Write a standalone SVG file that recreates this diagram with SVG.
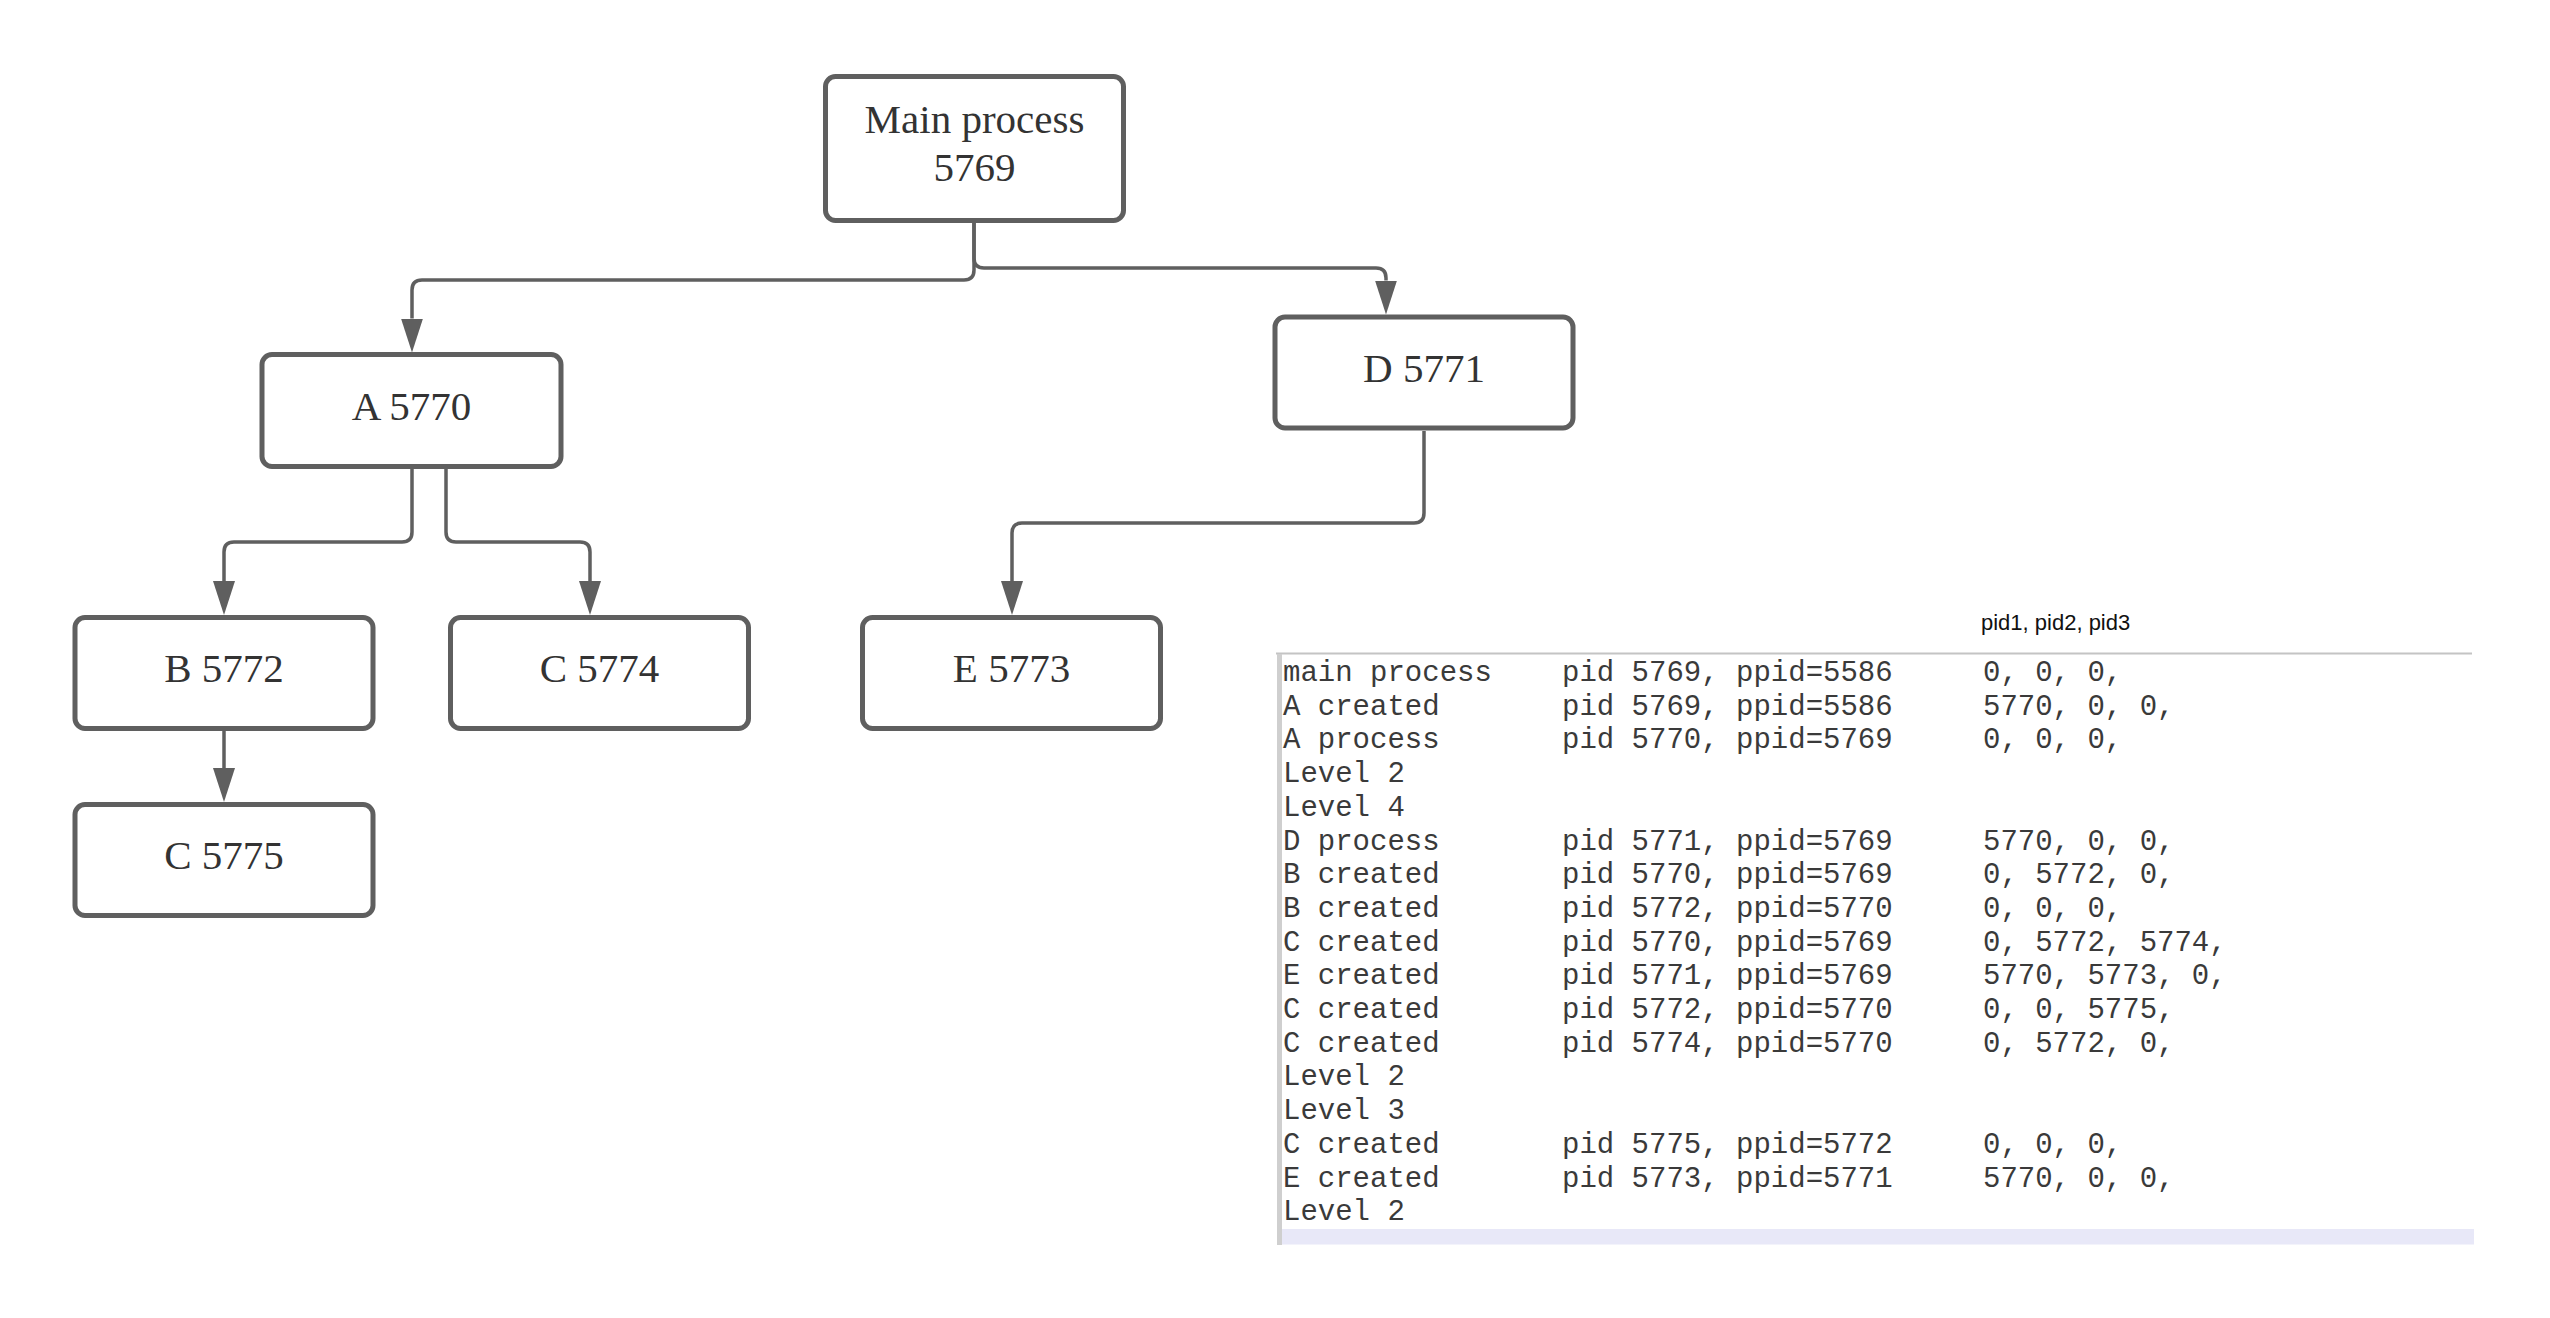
<svg xmlns="http://www.w3.org/2000/svg" width="2550" height="1318" viewBox="0 0 2550 1318">
<style>
.box{fill:#ffffff;stroke:#5f5f5f;stroke-width:5}
.lbl{font-family:"Liberation Serif","Times New Roman",serif;font-size:41px;fill:#333333;text-anchor:middle}
.con{fill:none;stroke:#5f5f5f;stroke-width:3.5}
.mono{font-family:"Liberation Mono","Courier New",monospace;font-size:29px;fill:#3a3a3a}
.hdr{font-family:"Liberation Sans",Arial,sans-serif;font-size:22px;fill:#111111}
</style>
<defs>
<marker id="arr" markerUnits="userSpaceOnUse" markerWidth="36" markerHeight="24" refX="0" refY="11" orient="auto">
<path d="M0,0 L34,11 L0,22 Z" fill="#5f5f5f"/>
</marker>
</defs>
<rect x="0" y="0" width="2550" height="1318" fill="#ffffff"/>
<g id="connectors">
<path class="con" marker-end="url(#arr)" d="M974,223 V270 Q974,280 964,280 H422 Q412,280 412,290 V318.5"/>
<path class="con" marker-end="url(#arr)" d="M974,223 V258 Q974,268 984,268 H1376 Q1386,268 1386,278 V280.5"/>
<path class="con" marker-end="url(#arr)" d="M412,469 V532 Q412,542 402,542 H234 Q224,542 224,552 V581"/>
<path class="con" marker-end="url(#arr)" d="M446,469 V532 Q446,542 456,542 H580 Q590,542 590,552 V581"/>
<path class="con" marker-end="url(#arr)" d="M1424,431 V513 Q1424,523 1414,523 H1022 Q1012,523 1012,533 V581"/>
<path class="con" marker-end="url(#arr)" d="M224,731 V768"/>
</g>
<g id="node-main">
<rect class="box" x="825.5" y="76.5" width="298" height="144" rx="10"/>
<text class="lbl" x="974.5" y="133">Main process</text>
<text class="lbl" x="974.5" y="181">5769</text>
</g>
<g id="node-A">
<rect class="box" x="262" y="354.5" width="299" height="112" rx="10"/>
<text class="lbl" x="411.5" y="419.5">A 5770</text>
</g>
<g id="node-D">
<rect class="box" x="1275" y="317" width="298" height="111" rx="10"/>
<text class="lbl" x="1424" y="381.5">D 5771</text>
</g>
<g id="node-B">
<rect class="box" x="75" y="617.5" width="298" height="111" rx="10"/>
<text class="lbl" x="224" y="681.5">B 5772</text>
</g>
<g id="node-C5774">
<rect class="box" x="450.5" y="617.5" width="298" height="111" rx="10"/>
<text class="lbl" x="599.5" y="681.5">C 5774</text>
</g>
<g id="node-E">
<rect class="box" x="862.5" y="617.5" width="298" height="111" rx="10"/>
<text class="lbl" x="1011.5" y="681.5">E 5773</text>
</g>
<g id="node-C5775">
<rect class="box" x="75" y="804.5" width="298" height="111" rx="10"/>
<text class="lbl" x="224" y="869">C 5775</text>
</g>
<g id="output-log">
<text class="hdr" x="1981" y="630">pid1, pid2, pid3</text>
<line x1="1276" y1="653.5" x2="2472" y2="653.5" stroke="#c4c4c4" stroke-width="2"/>
<rect x="1277" y="654" width="5" height="591" fill="#cfcfcf"/>
<rect x="1282" y="1229" width="1192" height="15.5" fill="#e8e8f8"/>
<g class="mono">
<text y="681"><tspan x="1283">main process</tspan><tspan x="1562">pid 5769, ppid=5586</tspan><tspan x="1983">0, 0, 0,</tspan></text>
<text y="714.7"><tspan x="1283">A created</tspan><tspan x="1562">pid 5769, ppid=5586</tspan><tspan x="1983">5770, 0, 0,</tspan></text>
<text y="748.4"><tspan x="1283">A process</tspan><tspan x="1562">pid 5770, ppid=5769</tspan><tspan x="1983">0, 0, 0,</tspan></text>
<text y="782.1"><tspan x="1283">Level 2</tspan></text>
<text y="815.8"><tspan x="1283">Level 4</tspan></text>
<text y="849.5"><tspan x="1283">D process</tspan><tspan x="1562">pid 5771, ppid=5769</tspan><tspan x="1983">5770, 0, 0,</tspan></text>
<text y="883.2"><tspan x="1283">B created</tspan><tspan x="1562">pid 5770, ppid=5769</tspan><tspan x="1983">0, 5772, 0,</tspan></text>
<text y="916.9"><tspan x="1283">B created</tspan><tspan x="1562">pid 5772, ppid=5770</tspan><tspan x="1983">0, 0, 0,</tspan></text>
<text y="950.6"><tspan x="1283">C created</tspan><tspan x="1562">pid 5770, ppid=5769</tspan><tspan x="1983">0, 5772, 5774,</tspan></text>
<text y="984.3"><tspan x="1283">E created</tspan><tspan x="1562">pid 5771, ppid=5769</tspan><tspan x="1983">5770, 5773, 0,</tspan></text>
<text y="1018"><tspan x="1283">C created</tspan><tspan x="1562">pid 5772, ppid=5770</tspan><tspan x="1983">0, 0, 5775,</tspan></text>
<text y="1051.7"><tspan x="1283">C created</tspan><tspan x="1562">pid 5774, ppid=5770</tspan><tspan x="1983">0, 5772, 0,</tspan></text>
<text y="1085.4"><tspan x="1283">Level 2</tspan></text>
<text y="1119.1"><tspan x="1283">Level 3</tspan></text>
<text y="1152.8"><tspan x="1283">C created</tspan><tspan x="1562">pid 5775, ppid=5772</tspan><tspan x="1983">0, 0, 0,</tspan></text>
<text y="1186.5"><tspan x="1283">E created</tspan><tspan x="1562">pid 5773, ppid=5771</tspan><tspan x="1983">5770, 0, 0,</tspan></text>
<text y="1220.2"><tspan x="1283">Level 2</tspan></text>
</g>
</g>
</svg>
